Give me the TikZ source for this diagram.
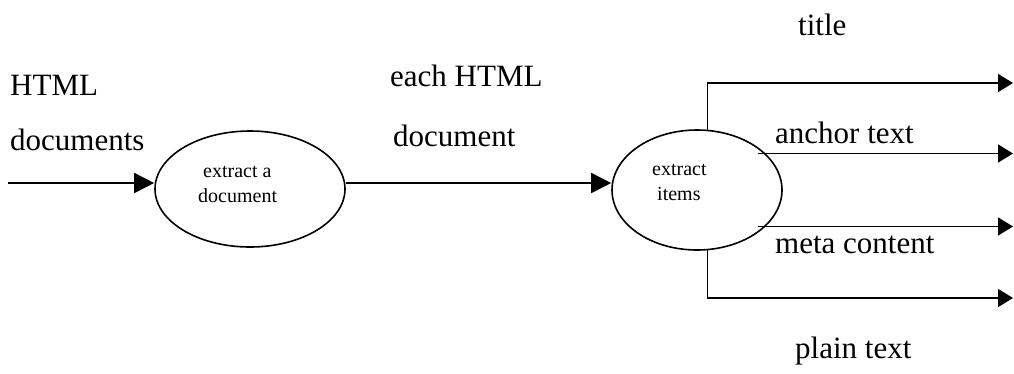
\documentclass[tikz,border=0pt]{standalone}
\usepackage{fontspec}
\setmainfont{Liberation Serif}
\usetikzlibrary{shapes.geometric,arrows.meta,calc}
\begin{document}
\begin{tikzpicture}[x=1pt,y=-1pt,
  proc/.style={ellipse,draw,line width=1.6pt,inner sep=0pt},
  big/.style={font=\fontsize{31}{31}\selectfont,inner sep=0pt,anchor=base west},
  small/.style={font=\fontsize{20}{20}\selectfont,inner sep=0pt,anchor=base west},
  link/.style={line width=1.6pt},
  arrL/.style={link,-{Triangle[length=20pt,width=20pt]}},
  arrR/.style={link,-{Triangle[length=15pt,width=18pt]}}]
\useasboundingbox (0,0) rectangle (1014,373);
% processes
\node[proc,minimum width=190pt,minimum height=116pt] (e1) at (250,189) {};
\node[proc,minimum width=170pt,minimum height=120pt] (e2) at (697,190) {};
% process texts
\node[small] (t1a) at (203,177) {extract a};
\node[small] (t1b) at (198,202) {document};
\node[small] (t2a) at (652,175) {extract};
\node[small] (t2b) at (657,200) {items};
% labels
\node[big] (l1) at (10,95) {HTML};
\node[big] (l2) at (10,150) {documents};
\node[big] (l3) at (390,86) {each HTML};
\node[big] (l4) at (393,146) {document};
\node[big] (l5) at (798,35) {title};
\node[big] (l6) at (775,143) {anchor text};
\node[big] (l7) at (775,253) {meta content};
\node[big] (l8) at (795,358) {plain text};
% connector ends
\coordinate (in) at (8,183);
\coordinate (oT) at (1013,83);
\coordinate (oA) at (1013,155);
\coordinate (oM) at (1013,226);
\coordinate (oP) at (1013,298);
% connectors
\draw[arrL] (in) -- (in -| e1.west);
\draw[arrL] (e1.east |- in) -- (in -| e2.west);
\draw[arrR] (e2.80) |- (oT);
\draw[arrR] ($(e2.28)+(-8,0)$) -- (e2.28 -| oA);
\draw[arrR] ($(e2.-28)+(-8,0)$) -- (e2.-28 -| oM);
\draw[arrR] (e2.-80) |- (oP);
\end{tikzpicture}
\end{document}
